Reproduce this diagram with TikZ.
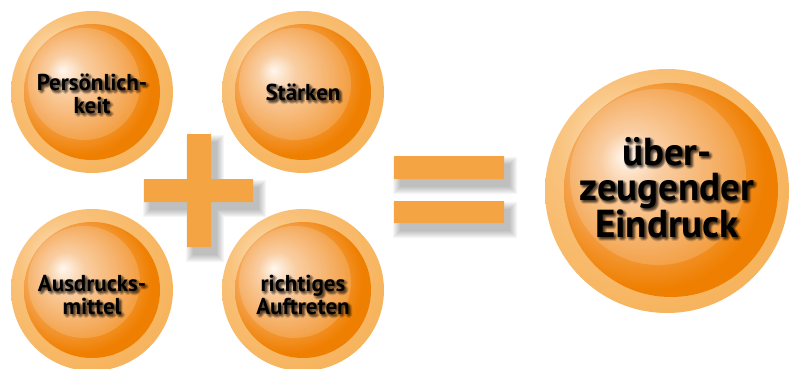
\documentclass[tikz,border=0pt]{standalone}
\usepackage{fontspec}
\setmainfont{PT Sans}
\usetikzlibrary{positioning}

\definecolor{ringlight}{HTML}{FCDDB4}
\definecolor{ringorange}{HTML}{F7B45E}
\definecolor{corelight}{HTML}{FFF6EC}
\definecolor{corepeach}{HTML}{F9C591}
\definecolor{coremid}{HTML}{F4A048}
\definecolor{coredeep}{HTML}{EF7F00}
\definecolor{barorange}{HTML}{F4A442}

% shadings for the balls, light comes from the upper left
\pgfdeclareradialshading{orbring}{\pgfpoint{-12bp}{12bp}}{%
  color(0bp)=(ringlight); color(14bp)=(ringorange!65!ringlight);
  color(30bp)=(ringorange); color(50bp)=(ringorange)}
\pgfdeclareradialshading{orbcore}{\pgfpoint{-11bp}{8bp}}{%
  color(0bp)=(corelight); color(7bp)=(corepeach);
  color(18bp)=(coremid); color(27bp)=(coredeep); color(50bp)=(coredeep)}

\tikzset{
  ring/.style={circle, inner sep=0pt, shading=orbring},
  core/.style={circle, inner sep=0pt, shading=orbcore},
  small text/.style={align=center, inner sep=0pt, font=\bfseries\fontsize{23}{23.5}\selectfont},
  big text/.style={align=center, inner sep=0pt, font=\bfseries\fontsize{39}{35}\selectfont},
  bar/.style={fill=barorange}
}

% label with a soft shadow: #1 ball, #2 style, #3 text
\newcommand\orbtext[3]{%
  \foreach \dx/\dy in {1/1,3/1,1/3,3/3,2/2,2/0,0/2,4/2,2/4}
    \node[#2, text=black, opacity=.13, xshift=\dx pt, yshift=-\dy pt]
      (#1-glow\dx\dy) at (#1) {#3};
  \node[#2] (#1-text) at (#1) {#3};}

\begin{document}
\begin{tikzpicture}[x=1pt, y=-1pt]
  \useasboundingbox (0,0) rectangle (796,369);

  % small balls
  \node[ring, minimum size=162pt] (pers) at (92,92) {};
  \node[ring, minimum size=162pt] (staerken) at (303,92) {};
  \node[ring, minimum size=162pt] (mittel) at (92,290) {};
  \node[ring, minimum size=162pt] (auftreten) at (303,290) {};
  \node[core, minimum size=136pt] (pers-core) at (pers) {};
  \node[core, minimum size=136pt] (staerken-core) at (staerken) {};
  \node[core, minimum size=136pt] (mittel-core) at (mittel) {};
  \node[core, minimum size=136pt] (auftreten-core) at (auftreten) {};
  \foreach \b in {pers,staerken,mittel,auftreten}
    \fill[white, opacity=.16] ([shift={(-8,-8)}]\b) circle (56);

  % big ball
  \node[ring, minimum size=244pt] (eindruck) at (667,191) {};
  \node[core, minimum size=214pt] (eindruck-core) at (671,190) {};
  \fill[white, opacity=.16] ([shift={(-13,-13)}]eindruck-core) circle (88);

  % plus and equals with their shadows
  \foreach \s in {0,...,7}
    \fill[black, opacity=.035]
      (150-\s,187-\s) rectangle (259+\s,210+\s)
      (193-\s,142-\s) rectangle (217+\s,255+\s)
      (400-\s,164-\s) rectangle (510+\s,187+\s)
      (400-\s,209-\s) rectangle (510+\s,231+\s);
  \fill[bar] (144,179) rectangle (253,202) (187,134) rectangle (211,247);
  \fill[bar] (394,156) rectangle (504,179) (394,201) rectangle (504,223);

  % labels
  \orbtext{pers}{small text, yshift=-2pt}{Persönlich-\\keit}
  \orbtext{staerken}{small text}{Stärken}
  \orbtext{mittel}{small text, yshift=-5pt}{Ausdrucks-\\mittel}
  \orbtext{auftreten}{small text, yshift=-5pt}{richtiges\\Auftreten}
  \orbtext{eindruck}{big text, yshift=3pt}{über-\\zeugender\\Eindruck}
\end{tikzpicture}
\end{document}
